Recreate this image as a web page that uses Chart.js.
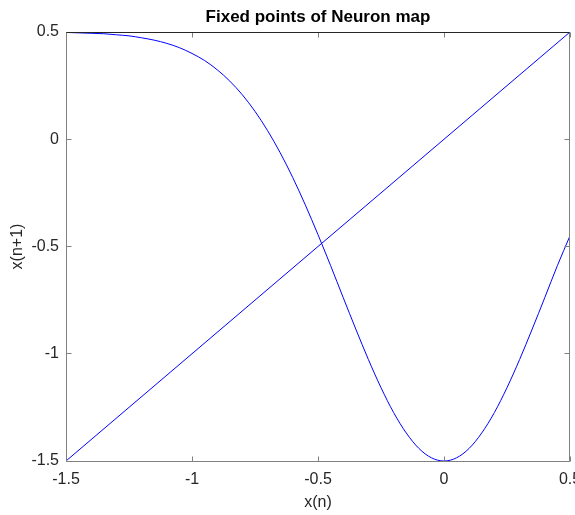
<!DOCTYPE html>
<html>
<head>
<meta charset="utf-8">
<script src="https://cdn.jsdelivr.net/npm/chart.js@4.4.1/dist/chart.umd.min.js"></script>
<style>
  html, body { margin: 0; padding: 0; background: #ffffff; }
  #wrap { width: 575px; height: 515px; }
</style>
</head>
<body>
<div id="wrap"><canvas id="c" width="575" height="515"></canvas></div>
<script>
// x(n) samples for the neuron map curve
const xn = [
  -1.50, -1.45, -1.40, -1.35, -1.30, -1.25, -1.20, -1.15, -1.10, -1.05,
  -1.00, -0.95, -0.90, -0.85, -0.80, -0.75, -0.70, -0.65, -0.60, -0.55,
  -0.50, -0.45, -0.40, -0.35, -0.30, -0.25, -0.20, -0.15, -0.10, -0.05,
   0.00,  0.05,  0.10,  0.15,  0.20,  0.25,  0.30,  0.35,  0.40,  0.45, 0.50
];
// x(n+1) values of the map at those points
const xnNext = [
   0.498,  0.496,  0.494,  0.492,  0.487,  0.482,  0.473,  0.462,  0.447,  0.427,
   0.400,  0.367,  0.324,  0.271,  0.207,  0.130,  0.040, -0.063, -0.179, -0.307,
  -0.445, -0.589, -0.738, -0.885, -1.027, -1.158, -1.274, -1.369, -1.441, -1.485,
  -1.500, -1.485, -1.441, -1.369, -1.274, -1.158, -1.027, -0.885, -0.738, -0.589, -0.450
];
// identity line x(n+1) = x(n)
const diagX = [-1.5, 0.5];
const diagY = [-1.5, 0.5];

const xTicks = [-1.5, -1, -0.5, 0, 0.5];
const xTickLabels = ['-1.5', '-1', '-0.5', '0', '0.5'];
const yTicks = [-1.5, -1, -0.5, 0, 0.5];
const yTickLabels = ['-1.5', '-1', '-0.5', '0', '0.5'];

const FONT = "'Liberation Sans', Arial, Helvetica, sans-serif";
const TEXT = '#262626';
const AXIS = '#808080';

// Box around the plot with inward-pointing tick marks on all four sides
const framePlugin = {
  id: 'frame',
  afterDatasetsDraw(chart) {
    const { ctx, chartArea: a, scales } = chart;
    const px = v => Math.floor(v) + 0.5;
    const L = px(a.left), R = px(a.right - 1), T = px(a.top), B = px(a.bottom);
    const len = 5;
    ctx.save();
    ctx.lineWidth = 1;
    ctx.strokeStyle = AXIS;
    ctx.beginPath();
    ctx.moveTo(L, T); ctx.lineTo(L, B); ctx.lineTo(R, B); ctx.lineTo(R, T);
    xTicks.forEach(v => {
      const x = px(scales.x.getPixelForValue(v));
      ctx.moveTo(x, B); ctx.lineTo(x, B - len);
      ctx.moveTo(x, T); ctx.lineTo(x, T + len);
    });
    yTicks.forEach(v => {
      const y = px(scales.y.getPixelForValue(v));
      ctx.moveTo(L, y); ctx.lineTo(L + len, y);
      ctx.moveTo(R, y); ctx.lineTo(R - len, y);
    });
    ctx.stroke();
    ctx.strokeStyle = '#262626';
    ctx.beginPath();
    ctx.moveTo(L, T); ctx.lineTo(R, T);
    ctx.stroke();
    ctx.restore();
  }
};

new Chart(document.getElementById('c'), {
  type: 'scatter',
  data: {
    datasets: [
      {
        data: diagX.map((v, i) => ({ x: v, y: diagY[i] })),
        showLine: true,
        borderColor: '#0000ff',
        borderWidth: 1,
        pointRadius: 0,
        fill: false
      },
      {
        data: xn.map((v, i) => ({ x: v, y: xnNext[i] })),
        showLine: true,
        borderColor: '#0000ff',
        borderWidth: 1,
        pointRadius: 0,
        fill: false,
        cubicInterpolationMode: 'monotone'
      }
    ]
  },
  options: {
    responsive: false,
    animation: false,
    devicePixelRatio: 1,
    events: [],
    layout: { padding: { top: 0, left: 0, right: 5, bottom: 0 }, autoPadding: false },
    plugins: {
      legend: { display: false },
      tooltip: { enabled: false },
      title: {
        display: true,
        text: 'Fixed points of Neuron map',
        fullSize: false,
        color: '#000000',
        font: { family: FONT, size: 17, weight: 'bold' },
        padding: { top: 7.5, bottom: 4.1 }
      }
    },
    scales: {
      x: {
        type: 'linear',
        min: -1.5,
        max: 0.5,
        grid: { display: false, drawTicks: false, tickLength: 0 },
        border: { display: false },
        afterBuildTicks: s => { s.ticks = xTicks.map(v => ({ value: v })); },
        ticks: {
          autoSkip: false,
          maxRotation: 0,
          padding: 9,
          color: TEXT,
          font: { family: FONT, size: 16 },
          callback: v => xTickLabels[xTicks.indexOf(v)]
        },
        title: {
          display: true,
          text: 'x(n)',
          color: TEXT,
          font: { family: FONT, size: 16 },
          padding: { top: 0, bottom: 2.5 }
        },
        afterFit: s => { s.height = 54; s.paddingLeft = 0; s.paddingRight = 0; }
      },
      y: {
        type: 'linear',
        min: -1.5,
        max: 0.5,
        grid: { display: false, drawTicks: false, tickLength: 0 },
        border: { display: false },
        afterBuildTicks: s => { s.ticks = yTicks.map(v => ({ value: v })); },
        ticks: {
          autoSkip: false,
          padding: 7,
          color: TEXT,
          font: { family: FONT, size: 16 },
          callback: v => yTickLabels[yTicks.indexOf(v)]
        },
        title: {
          display: true,
          text: 'x(n+1)',
          color: TEXT,
          font: { family: FONT, size: 16 },
          padding: { top: 8, bottom: 0 }
        },
        afterFit: s => { s.width = 66; s.paddingTop = 0; s.paddingBottom = 0; }
      }
    }
  },
  plugins: [framePlugin]
});
</script>
</body>
</html>
